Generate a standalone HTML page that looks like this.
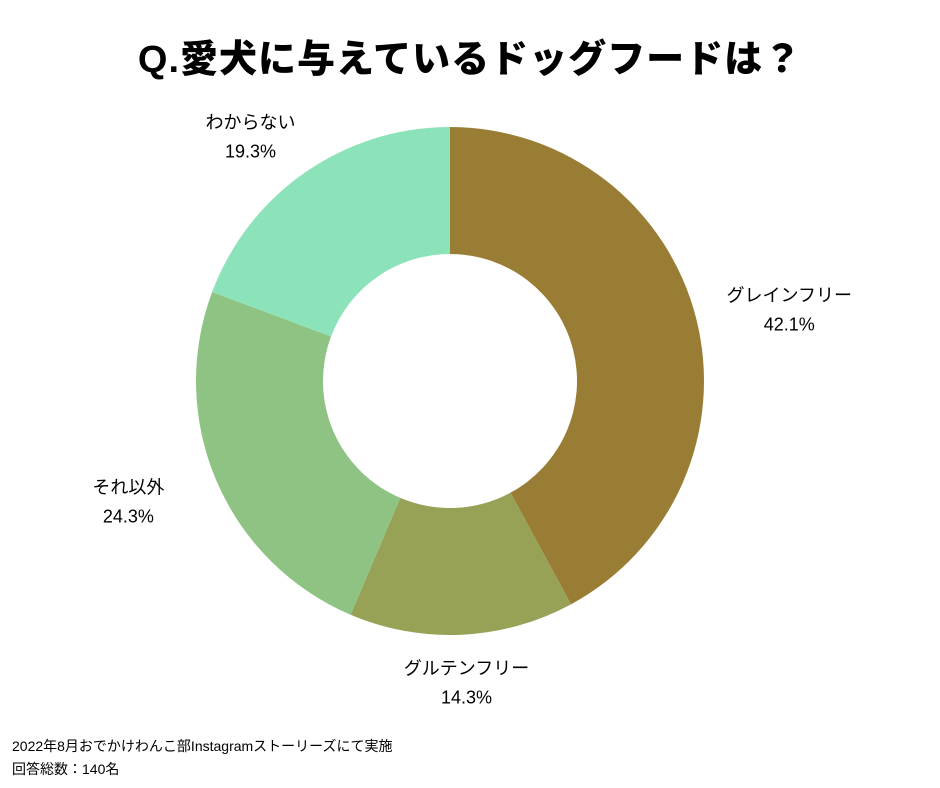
<!DOCTYPE html>
<html><head><meta charset="utf-8">
<style>
body{margin:0;background:#fff;width:940px;height:788px;overflow:hidden;font-family:"Liberation Sans","Noto Sans CJK JP",sans-serif;}
#title{position:absolute;left:0;top:28px;width:940px;text-align:center;font-size:38px;font-weight:900;color:#000;letter-spacing:1px;}
.foot{position:absolute;left:12px;font-size:14px;color:#000;}
</style></head><body>
<div id="title">Q.愛犬に与えているドッグフードは？</div>
<svg id="chart" width="940" height="788" style="position:absolute;left:0;top:0"></svg>
<div class="foot" style="top:736px">2022年8月おでかけわんこ部Instagramストーリーズにて実施</div>
<div class="foot" style="top:759px">回答総数：140名</div>
<script>
const categories=["グレインフリー","グルテンフリー","それ以外","わからない"];
const values=[42.1,14.3,24.3,19.3];
const colors=["#9a7d35","#97a257","#8fc383","#8de3b9"];
const svg=document.getElementById('chart');
const NS="http://www.w3.org/2000/svg";
const cx=450,cy=381,R=254,r=127;
const total=values.reduce((a,b)=>a+b,0);
function pt(a,rad){return [cx+rad*Math.sin(a),cy-rad*Math.cos(a)];}
let acc=0;
values.forEach((v,i)=>{
  const a0=acc/total*2*Math.PI; acc+=v; const a1=acc/total*2*Math.PI;
  const large=(a1-a0)>Math.PI?1:0;
  const [x0,y0]=pt(a0,R),[x1,y1]=pt(a1,R),[x2,y2]=pt(a1,r),[x3,y3]=pt(a0,r);
  const p=document.createElementNS(NS,'path');
  p.setAttribute('d',`M${x0},${y0}A${R},${R} 0 ${large} 1 ${x1},${y1}L${x2},${y2}A${r},${r} 0 ${large} 0 ${x3},${y3}Z`);
  p.setAttribute('fill',colors[i]);
  
  
  svg.appendChild(p);
  const am=(a0+a1)/2;
  const lx=cx+350*Math.sin(am), ly=cy-300*Math.cos(am);
  const t1=document.createElementNS(NS,'text');
  t1.setAttribute('x',lx);t1.setAttribute('y',ly-6);
  t1.setAttribute('text-anchor','middle');t1.setAttribute('font-size','18');
  t1.setAttribute('font-family','"Liberation Sans","Noto Sans CJK JP",sans-serif');
  t1.textContent=categories[i];
  
  
  svg.appendChild(t1);
  const t2=document.createElementNS(NS,'text');
  t2.setAttribute('x',lx);t2.setAttribute('y',ly+23);
  t2.setAttribute('text-anchor','middle');t2.setAttribute('font-size','18');
  t2.setAttribute('font-family','"Liberation Sans","Noto Sans CJK JP",sans-serif');
  t2.textContent=v.toFixed(1)+'%';
  
  
  svg.appendChild(t2);
});
</script>
</body></html>
